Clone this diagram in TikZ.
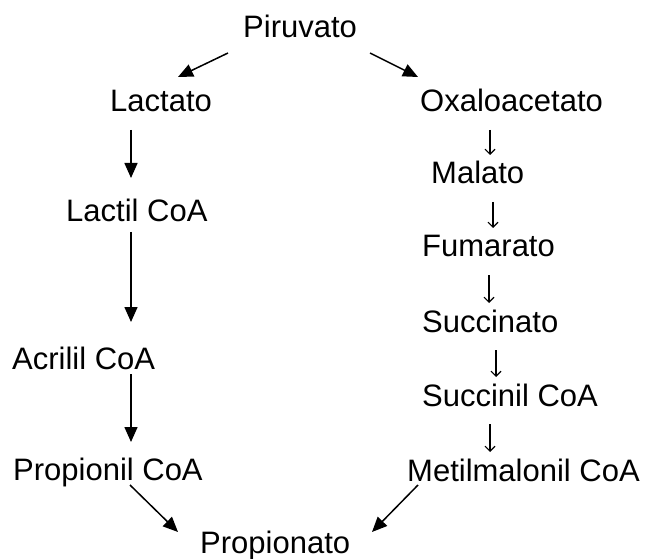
\documentclass[tikz,border=0pt]{standalone}
\usepackage{fontspec}
\setmainfont{Liberation Sans}
\usetikzlibrary{arrows.meta,calc}
\begin{document}
\begin{tikzpicture}[x=1pt,y=-1pt,
  lbl/.style={font=\fontsize{31}{36}\selectfont, inner sep=0pt, anchor=base west},
  big/.style={line width=1.5pt, -{Triangle[length=15pt,width=13pt]}},
  small/.style={line width=1.1pt, -{Straight Barb[length=5pt,width=10pt,line width=1.1pt]}}]
\useasboundingbox (0,0) rectangle (646,559);
\node[lbl] (piru) at (243,38) {Piruvato};
\node[lbl] (lact) at (110,112) {Lactato};
\node[lbl] (oxa) at (420,112) {Oxaloacetato};
\node[lbl] (mal) at (431,184) {Malato};
\node[lbl] (fum) at (422,257) {Fumarato};
\node[lbl] (suc) at (422,332) {Succinato};
\node[lbl] (sucoa) at (422,406) {Succinil CoA};
\node[lbl] (met) at (407,481) {Metilmalonil CoA};
\node[lbl] (lcoa) at (66,222) {Lactil CoA};
\node[lbl] (acr) at (12,369) {Acrilil CoA};
\node[lbl] (prop) at (13,480) {Propionil CoA};
\node[lbl] (pro) at (200,553) {Propionato};
% left branch
\draw[big] ($(piru.base west)+(-15,15)$) -- ($(lact.base west)+(68,-35)$);
\draw[big] ($(piru.base west)+(127,15)$) -- ($(oxa.base west)+(-2,-35)$);
\draw[big] ($(lact.base west)+(21,18)$) -- ($(lcoa.base west)+(65,-44)$);
\draw[big] ($(lcoa.base west)+(65,10)$) -- ($(acr.base west)+(119,-47)$);
\draw[big] ($(acr.base west)+(119,5)$) -- ($(prop.base west)+(118,-38)$);
\draw[big] ($(prop.base west)+(117,5)$) -- ($(pro.base west)+(-22,-21)$);
\draw[big] ($(met.base west)+(11,4)$) -- ($(pro.base west)+(172,-21)$);
% right branch
\draw[small] ($(oxa.base west)+(70,18)$) -- ($(mal.base west)+(59,-29)$);
\draw[small] ($(mal.base west)+(62,18)$) -- ($(fum.base west)+(71,-29)$);
\draw[small] ($(fum.base west)+(67,18)$) -- ($(suc.base west)+(67,-29)$);
\draw[small] ($(suc.base west)+(74,18)$) -- ($(sucoa.base west)+(74,-29)$);
\draw[small] ($(sucoa.base west)+(68,18)$) -- ($(met.base west)+(83,-29)$);
\end{tikzpicture}
\end{document}
